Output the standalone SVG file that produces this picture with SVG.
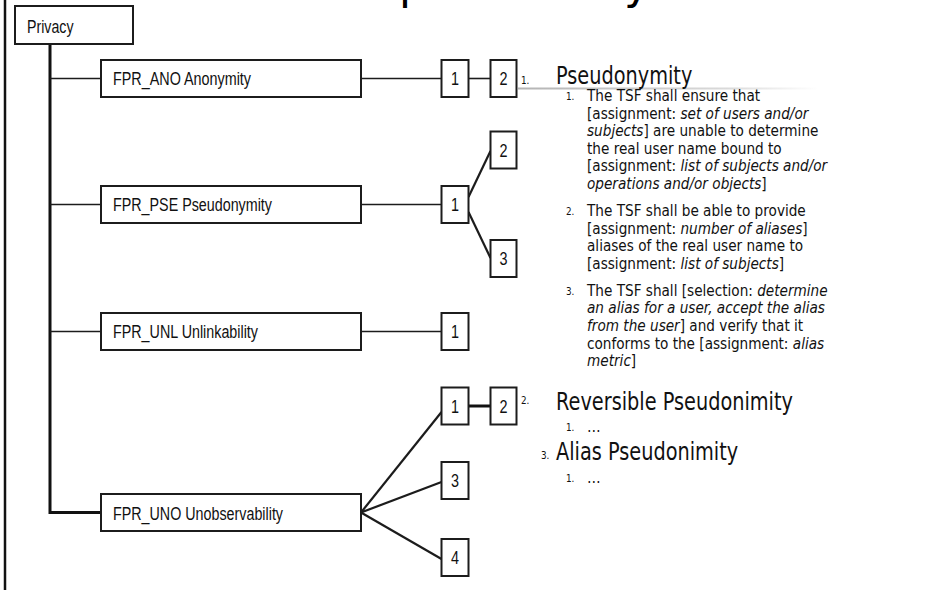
<svg xmlns="http://www.w3.org/2000/svg" width="941" height="590" viewBox="0 0 941 590">
  <defs>
    <linearGradient id="rule-fade" x1="0" y1="0" x2="1" y2="0">
      <stop offset="0" stop-color="#b4b4b4"/>
      <stop offset="0.7" stop-color="#dadada"/>
      <stop offset="1" stop-color="#ffffff"/>
    </linearGradient>
    <style>
      .box { fill: #ffffff; stroke: #1c1c1c; stroke-width: 2; }
      .lbl { font-family: "Liberation Sans", Arial, sans-serif; font-size: 17.5px; fill: #111; }
      .num { font-family: "Liberation Sans", Arial, sans-serif; font-size: 17.5px; fill: #111; text-anchor: middle; }
      .thin { stroke: #1c1c1c; stroke-width: 1.6; fill: none; }
      .mid { stroke: #1c1c1c; stroke-width: 2.2; fill: none; }
      .thick { stroke: #111; stroke-width: 3; fill: none; }
      .body { font-family: "DejaVu Sans", Verdana, sans-serif; fill: #111; }
      .h1 { font-size: 24px; }
      .h2 { font-size: 15.4px; }
      .bn { font-size: 11px; }
      .bn2 { font-size: 10px; }
      .it { font-style: italic; }
      .title { font-family: "DejaVu Sans", Verdana, sans-serif; font-size: 44px; fill: #000; }
    </style>
  </defs>

  <rect width="941" height="590" fill="#ffffff"/>

  <!-- slide heading, mostly above the visible area -->
  <text class="title" x="399" y="-1.5">p</text>
  <text class="title" x="624" y="-1.5">y</text>

  <!-- frame line at the left edge -->
  <line x1="5" y1="0" x2="5" y2="590" stroke="#111" stroke-width="2.5"/>

  <!-- connectors -->
  <g id="connectors">
    <!-- trunk from the class box down to the last family -->
    <polyline class="thick" points="50,44 50,512.5 101,512.5"/>
    <line class="thin" x1="50" y1="78.5" x2="101" y2="78.5"/>
    <line class="thin" x1="50" y1="204.5" x2="101" y2="204.5"/>
    <line class="thin" x1="50" y1="331.5" x2="101" y2="331.5"/>

    <!-- FPR_ANO -->
    <line class="thin" x1="361" y1="78.5" x2="441.5" y2="78.5"/>
    <line class="thin" x1="468.5" y1="78.5" x2="490.5" y2="78.5"/>

    <!-- FPR_PSE -->
    <line class="thin" x1="361" y1="204.5" x2="441.5" y2="204.5"/>
    <line class="mid" x1="468.5" y1="197" x2="490.5" y2="151"/>
    <line class="mid" x1="468.5" y1="212" x2="490.5" y2="258"/>

    <!-- FPR_UNL -->
    <line class="thin" x1="361" y1="331.5" x2="441.5" y2="331.5"/>

    <!-- FPR_UNO -->
    <line class="mid" x1="361" y1="512.5" x2="441.5" y2="412"/>
    <line class="mid" x1="361" y1="512.5" x2="441.5" y2="482"/>
    <line class="mid" x1="361" y1="512.5" x2="441.5" y2="559"/>
    <line class="thick" x1="468.5" y1="406" x2="490.5" y2="406"/>
  </g>

  <!-- class -->
  <g id="privacy">
    <rect class="box" x="15" y="6" width="118" height="38"/>
    <text class="lbl" x="27" y="33" textLength="46.5" lengthAdjust="spacingAndGlyphs">Privacy</text>
  </g>

  <!-- families -->
  <g id="fpr-ano">
    <rect class="box" x="101" y="60" width="260" height="37"/>
    <text class="lbl" x="113" y="85" textLength="138" lengthAdjust="spacingAndGlyphs">FPR_ANO Anonymity</text>
  </g>
  <g id="fpr-pse">
    <rect class="box" x="101" y="186" width="260" height="37"/>
    <text class="lbl" x="113" y="211" textLength="159" lengthAdjust="spacingAndGlyphs">FPR_PSE Pseudonymity</text>
  </g>
  <g id="fpr-unl">
    <rect class="box" x="101" y="313" width="260" height="37"/>
    <text class="lbl" x="113" y="338" textLength="145" lengthAdjust="spacingAndGlyphs">FPR_UNL Unlinkability</text>
  </g>
  <g id="fpr-uno">
    <rect class="box" x="101" y="494" width="260" height="37"/>
    <text class="lbl" x="113" y="519.5" textLength="170" lengthAdjust="spacingAndGlyphs">FPR_UNO Unobservability</text>
  </g>

  <!-- components -->
  <g id="ano-1">
    <rect class="box" x="441.5" y="60" width="27" height="37"/>
    <text class="num" x="455" y="85" textLength="8" lengthAdjust="spacingAndGlyphs">1</text>
  </g>
  <g id="ano-2">
    <rect class="box" x="490.5" y="60" width="26" height="37"/>
    <text class="num" x="503.5" y="85" textLength="8" lengthAdjust="spacingAndGlyphs">2</text>
  </g>
  <g id="pse-1">
    <rect class="box" x="441.5" y="186" width="27" height="37"/>
    <text class="num" x="455" y="211" textLength="8" lengthAdjust="spacingAndGlyphs">1</text>
  </g>
  <g id="pse-2">
    <rect class="box" x="490.5" y="131.5" width="26" height="37"/>
    <text class="num" x="503.5" y="156.5" textLength="8" lengthAdjust="spacingAndGlyphs">2</text>
  </g>
  <g id="pse-3">
    <rect class="box" x="490.5" y="240" width="26" height="37"/>
    <text class="num" x="503.5" y="265" textLength="8" lengthAdjust="spacingAndGlyphs">3</text>
  </g>
  <g id="unl-1">
    <rect class="box" x="441.5" y="313" width="27" height="37"/>
    <text class="num" x="455" y="338" textLength="8" lengthAdjust="spacingAndGlyphs">1</text>
  </g>
  <g id="uno-1">
    <rect class="box" x="441.5" y="387.5" width="27" height="37"/>
    <text class="num" x="455" y="412.5" textLength="8" lengthAdjust="spacingAndGlyphs">1</text>
  </g>
  <g id="uno-2">
    <rect class="box" x="490.5" y="387.5" width="26" height="37"/>
    <text class="num" x="503.5" y="412.5" textLength="8" lengthAdjust="spacingAndGlyphs">2</text>
  </g>
  <g id="uno-3">
    <rect class="box" x="441.5" y="462" width="27" height="37"/>
    <text class="num" x="455" y="487" textLength="8" lengthAdjust="spacingAndGlyphs">3</text>
  </g>
  <g id="uno-4">
    <rect class="box" x="441.5" y="539" width="27" height="37"/>
    <text class="num" x="455" y="564" textLength="8" lengthAdjust="spacingAndGlyphs">4</text>
  </g>

  <!-- heading rule under the first item -->
  <rect x="518" y="87.5" width="300" height="2" fill="url(#rule-fade)"/>

  <!-- numbered list: first-level items, horizontally condensed -->
  <g id="items" class="body" transform="scale(0.805 1)">
    <text class="bn" x="647.2" y="84">1.</text>
    <text class="h1" x="690.7" y="84">Pseudonymity</text>
    <text class="bn" x="647.2" y="404">2.</text>
    <text class="h1" x="690.7" y="410">Reversible Pseudonimity</text>
    <text class="bn" x="672" y="459">3.</text>
    <text class="h1" x="690.7" y="460">Alias Pseudonimity</text>
  </g>

  <!-- numbered list: second-level requirements -->
  <g id="requirements" class="body" transform="scale(0.885 1)">
    <text class="bn2" x="639.5" y="100">1.</text>
    <text class="h2" x="663.3" y="101">The TSF shall ensure that</text>
    <text class="h2" x="663.3" y="118.6">[assignment: <tspan class="it">set of users and/or</tspan></text>
    <text class="h2" x="663.3" y="136.2"><tspan class="it">subjects</tspan>] are unable to determine</text>
    <text class="h2" x="663.3" y="153.8">the real user name bound to</text>
    <text class="h2" x="663.3" y="171.4">[assignment: <tspan class="it">list of subjects and/or</tspan></text>
    <text class="h2" x="663.3" y="189"><tspan class="it">operations and/or objects</tspan>]</text>

    <text class="bn2" x="639.5" y="215">2.</text>
    <text class="h2" x="663.3" y="216">The TSF shall be able to provide</text>
    <text class="h2" x="663.3" y="233.6">[assignment: <tspan class="it">number of aliases</tspan>]</text>
    <text class="h2" x="663.3" y="251.2">aliases of the real user name to</text>
    <text class="h2" x="663.3" y="268.8">[assignment: <tspan class="it">list of subjects</tspan>]</text>

    <text class="bn2" x="639.5" y="294.8">3.</text>
    <text class="h2" x="663.3" y="295.8">The TSF shall [selection: <tspan class="it">determine</tspan></text>
    <text class="h2" x="663.3" y="313.4"><tspan class="it">an alias for a user, accept the alias</tspan></text>
    <text class="h2" x="663.3" y="331"><tspan class="it">from the user</tspan>] and verify that it</text>
    <text class="h2" x="663.3" y="348.6">conforms to the [assignment: <tspan class="it">alias</tspan></text>
    <text class="h2" x="663.3" y="366.2"><tspan class="it">metric</tspan>]</text>

    <text class="bn2" x="639.5" y="431">1.</text>
    <text class="h2" x="663.3" y="432">…</text>
    <text class="bn2" x="639.5" y="482">1.</text>
    <text class="h2" x="663.3" y="483">…</text>
  </g>
</svg>
